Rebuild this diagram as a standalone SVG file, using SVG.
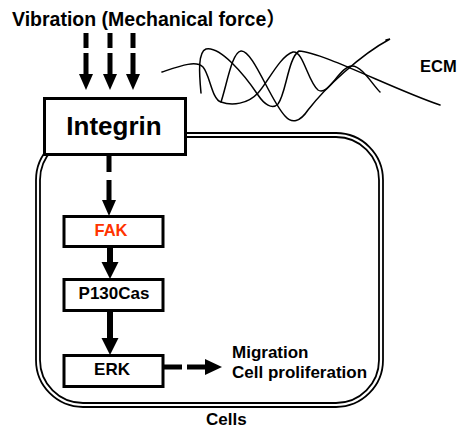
<svg xmlns="http://www.w3.org/2000/svg" width="469" height="440" viewBox="0 0 469 440">
<style>
.t{font-family:"Liberation Sans",Arial,"Noto Sans CJK SC",sans-serif;font-weight:bold;fill:#000}
.box{fill:#fff;stroke:#000;stroke-width:3}
.cell{fill:none;stroke:#000;stroke-width:1.8}
.dash{stroke:#000;stroke-width:5;fill:none}
.solid{stroke:#000;stroke-width:6;fill:none}
.head{fill:#000;stroke:none}
.ecm{fill:none;stroke:#000;stroke-width:1.5;stroke-linecap:round}
</style>
<rect width="469" height="440" fill="#fff"/>
<g id="cells">
<rect class="cell" x="36" y="133" width="347" height="274" rx="47" ry="47"/>
<rect class="cell" x="40" y="137" width="339" height="266" rx="43" ry="43"/>
<text class="t" x="206" y="425" font-size="17">Cells</text>
</g>
<g id="vibration">
<text class="t" x="12" y="26" font-size="19.5">Vibration (Mechanical force）</text>
</g>
<g id="ecm">
<path class="ecm" d="M162,72 C180,66 196,60 203,67 C210,75 212,100 221,102 C232,106 248,104 258,93 C268,82 280,56 293,52 C303,50 308,82 318,90 C328,97 340,66 352,66 C362,66 372,84 380,92"/>
<path class="ecm" d="M201,93 C199,72 198,52 206,49 C220,46 244,74 258,95 C264,104 272,110 278,104 C286,94 288,58 299,51 C322,52 395,90 440,105"/>
<path class="ecm" d="M221,102 C227,84 232,52 241,51 C253,50 270,100 285,116 C292,124 300,122 308,110 C325,88 360,55 390,39 L386,40"/>
<text class="t" x="420" y="72" font-size="16.5">ECM</text>
</g>
<g id="integrin">
<rect class="box" x="44.5" y="98.5" width="141" height="56"/>
<text class="t" x="114" y="135" font-size="26" text-anchor="middle">Integrin</text>
</g>
<g id="fak">
<rect class="box" x="64" y="216.5" width="99" height="30"/>
<text x="111" y="236" font-size="16.5" text-anchor="middle" style="font-family:'Liberation Sans',Arial,sans-serif;font-weight:bold;fill:#FF3300">FAK</text>
</g>
<g id="p130cas">
<rect class="box" x="64" y="279.5" width="99" height="31"/>
<text class="t" x="114" y="299" font-size="17" text-anchor="middle">P130Cas</text>
</g>
<g id="erk">
<rect class="box" x="64" y="355.5" width="99" height="31"/>
<text class="t" x="112" y="375" font-size="17" text-anchor="middle">ERK</text>
</g>
<g id="outcome">
<text class="t" x="232" y="358" font-size="17">Migration</text>
<text class="t" x="232" y="378" font-size="17">Cell proliferation</text>
</g>
<g id="connectors">
<path class="dash" d="M86,33 V48 M86,53 V74"/>
<polygon class="head" points="79,74 93,74 86,90"/>
<path class="dash" d="M110,33 V48 M110,53 V74"/>
<polygon class="head" points="103,74 117,74 110,90"/>
<path class="dash" d="M133,33 V48 M133,53 V74"/>
<polygon class="head" points="126,74 140,74 133,90"/>
<path class="dash" d="M109,156 V172 M109,180 V200"/>
<polygon class="head" points="102,200 116,200 109,216"/>
<path class="solid" d="M110,248 V262"/>
<polygon class="head" points="101.5,262 118.5,262 110,279"/>
<path class="solid" d="M110,312 V338"/>
<polygon class="head" points="101.5,338 118.5,338 110,355"/>
<path class="dash" d="M164,367 H182 M187,367 H205"/>
<polygon class="head" points="205,359 205,375 222,367"/>
</g>
</svg>
